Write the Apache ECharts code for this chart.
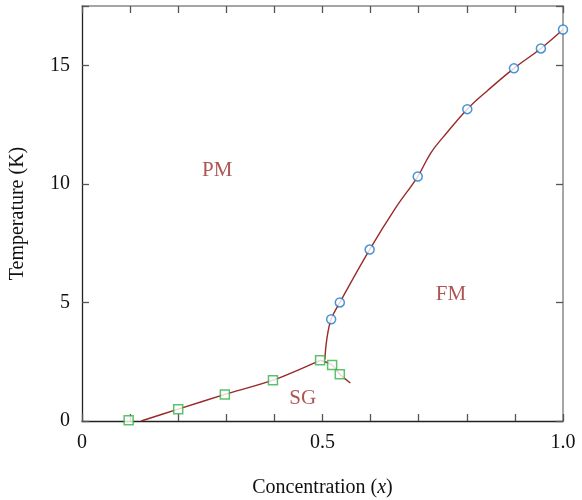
<!DOCTYPE html>
<html>
<head>
<meta charset="utf-8">
<script src="https://cdn.jsdelivr.net/npm/echarts@6/dist/echarts.min.js"></script>
<style>html,body{margin:0;padding:0;background:#fff}#c{width:582px;height:500px}</style>
</head>
<body>
<div id="c"></div>
<script>
// FM (circles) data points
const fmPoints = [[0.518,4.29],[0.536,5.0],[0.598,7.23],[0.698,10.31],[0.801,13.15],[0.898,14.87],[0.954,15.71],[1.0,16.51]];
// SG (squares) data points
const sgPoints = [[0.097,0.03],[0.2,0.5],[0.297,1.12],[0.397,1.72],[0.495,2.56],[0.52,2.36],[0.536,1.97]];
// boundary curves
const sgCurveLeft = [[0.123,0],[0.2,0.5],[0.297,1.12],[0.397,1.72],[0.495,2.56]];
const sgCurveRight = [[0.495,2.56],[0.52,2.36],[0.536,1.97],[0.558,1.6]];
const fmCurve = [[0.505,2.6],[0.509,3.45],[0.518,4.29],[0.536,5.0],[0.598,7.23],[0.652,8.99],[0.698,10.31],[0.725,11.3],[0.75,11.95],[0.801,13.15],[0.844,13.95],[0.898,14.87],[0.954,15.71],[1.0,16.51]];
// region labels
const regionLabels = [[0.281,10.55,'PM'],[0.767,5.34,'FM'],[0.459,0.97,'SG']];
const xTickLabels = {0:'0',0.5:'0.5',1:'1.0'};
const yTickLabels = [0,5,10,15];

const font = 'Liberation Serif';
const red = '#992a28';
const chart = echarts.init(document.getElementById('c'));
const tickStyle = {show:true,inside:true,length:7,lineStyle:{color:'#555',width:1.3}};
chart.setOption({
  animation:false,
  grid:{left:82,right:19,top:6,bottom:79,containLabel:false,outerBoundsMode:'none'},
  xAxis:[{
    type:'value',min:0,max:1,interval:0.1,position:'bottom',
    axisLine:{onZero:false,lineStyle:{color:'#222',width:1.3}},
    axisTick:tickStyle,
    splitLine:{show:false},
    axisLabel:{margin:12,fontFamily:font,fontSize:20,color:'#111',
      formatter:v=>{const k=Math.round(v*10)/10;return xTickLabels[k]!==undefined?xTickLabels[k]:'';}},
    name:'Concentration ({i|x})',nameLocation:'middle',nameGap:57,
    nameTextStyle:{fontFamily:font,fontSize:20,color:'#111',rich:{i:{fontFamily:font,fontSize:20,fontStyle:'italic',color:'#111'}}}
  },{
    type:'value',min:0,max:1,interval:0.1,position:'top',
    axisLine:{onZero:false,lineStyle:{color:'#888',width:1.5}},
    axisTick:tickStyle,axisLabel:{show:false},splitLine:{show:false}
  }],
  yAxis:[{
    type:'value',min:0,max:17.5,interval:5,position:'left',
    axisLine:{onZero:false,lineStyle:{color:'#222',width:1.3}},
    axisTick:tickStyle,splitLine:{show:false},
    axisLabel:{margin:12,fontFamily:font,fontSize:20,color:'#111',
      formatter:v=>yTickLabels.indexOf(v)>=0?String(v):''},
    name:'Temperature (K)',nameLocation:'middle',nameGap:54,nameRotate:90,
    nameTextStyle:{fontFamily:font,fontSize:20,color:'#111'}
  },{
    type:'value',min:0,max:17.5,interval:5,position:'right',
    axisLine:{onZero:false,lineStyle:{color:'#888',width:1.5}},
    axisTick:tickStyle,axisLabel:{show:false},splitLine:{show:false}
  }],
  series:[
    {type:'line',data:sgCurveLeft,smooth:0.3,showSymbol:false,lineStyle:{color:red,width:1.4},z:2},
    {type:'line',data:sgCurveRight,smooth:0.3,showSymbol:false,lineStyle:{color:red,width:1.4},z:2},
    {type:'line',data:fmCurve,smooth:0.4,showSymbol:false,lineStyle:{color:red,width:1.4},z:2},
    {type:'scatter',data:sgPoints,symbol:'rect',symbolSize:9,itemStyle:{color:'#fff',borderColor:'#33b34a',borderWidth:1.5},z:3},
    {type:'scatter',data:fmPoints,symbol:'circle',symbolSize:9,itemStyle:{color:'#fff',borderColor:'#1f78c8',borderWidth:1.5},z:3},
    {type:'scatter',data:regionLabels,symbolSize:0,silent:true,
      label:{show:true,position:'inside',formatter:p=>p.data[2],fontFamily:font,fontSize:21,color:red}}
  ]
});
</script>
</body>
</html>
